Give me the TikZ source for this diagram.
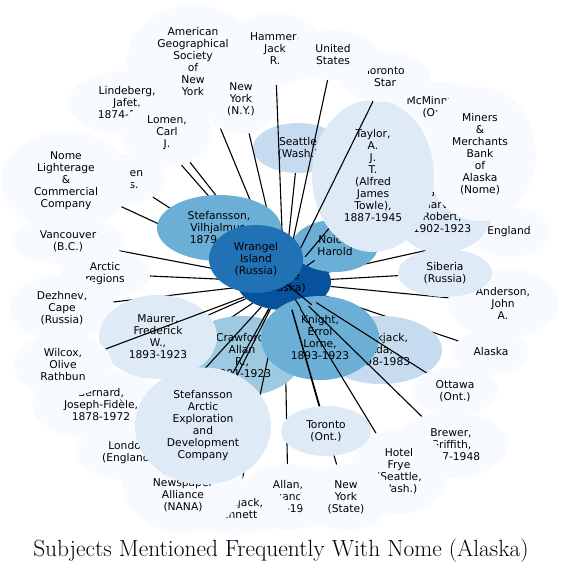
\documentclass[tikz,border=0pt]{standalone}
\usepackage{fontspec}
\usepackage{tikz}
\usetikzlibrary{shapes.geometric}
\newfontfamily\lblfamily{DejaVu Sans}
\newcommand\lblfont{\lblfamily\fontsize{10.7}{12}\selectfont}
\newcommand\ttlfont{\fontsize{23.4}{27}\selectfont}
\definecolor{bl0}{HTML}{F7FBFF}
\definecolor{bl1}{HTML}{DEEBF7}
\definecolor{bl2}{HTML}{C6DBEF}
\definecolor{bl3}{HTML}{9ECAE1}
\definecolor{bl4}{HTML}{6BAED6}
\definecolor{bl5}{HTML}{2171B5}
\definecolor{bl6}{HTML}{08519C}
\begin{document}
\begin{tikzpicture}[x=1pt,y=-1pt,
  bub/.style={ellipse,draw=none,inner sep=0pt,align=center,font=\lblfont},
  tie/.style={line width=1.1pt,black}]
\useasboundingbox (0,0) rectangle (563,571);
\node[bub,fill=bl6,minimum width=94pt,minimum height=56pt] (nome) at (284,282) {Nome\\(Alaska)};
\foreach \n/\p/\w/\h/\c/\t in {
  seattle/{(298,148)}/90/50/bl2/{Seattle\\(Wash.)},
  amer/{(193,62)}/132/114/bl0/{American\\Geographical\\Society\\of\\New\\York},
  nyny/{(241,99)}/76/70/bl0/{New\\York\\(N.Y.)},
  hammer/{(275,49)}/94/72/bl0/{Hammer,\\Jack\\R.},
  mcminn/{(438,107)}/104/50/bl0/{McMinnville\\(Ore.)},
  england/{(509,232)}/80/50/bl0/{England},
  harvey/{(442,211)}/100/84/bl1/{Galle,\\Harvey\\Robert,\\1902-1923},
  miners/{(480,154)}/112/134/bl0/{Miners\\\&\\Merchants\\Bank\\of\\Alaska\\(Nome)},
  noice/{(335,246)}/86/52/bl4/{Noice,\\Harold},
  taylor/{(373,176)}/122/152/bl1/{Taylor,\\A.\\J.\\T.\\(Alfred\\James\\Towle),\\1887-1945},
  tstar/{(385,77)}/90/50/bl0/{Toronto\\Star},
  us/{(333,55)}/92/50/bl0/{United\\States},
  lindeberg/{(127,103)}/118/64/bl0/{Lindeberg,\\Jafet,\\1874-1962},
  lomenc/{(167,133)}/90/68/bl0/{Lomen,\\Carl\\J.},
  lomenb/{(125,179)}/80/50/bl0/{Lomen\\Bros.},
  lighter/{(66,181)}/130/98/bl0/{Nome\\Lighterage\\\&\\Commercial\\Company},
  stefv/{(219,228)}/124/66/bl4/{Stefansson,\\Vilhjalmur,\\1879-1962},
  vancouver/{(68,241)}/112/48/bl0/{Vancouver\\(B.C.)},
  arctic/{(105,274)}/90/48/bl0/{Arctic\\regions},
  dezhnev/{(62,308)}/104/66/bl0/{Dezhnev,\\Cape\\(Russia)},
  allan/{(288,497)}/100/66/bl0/{Allan,\\Alexander,\\1867-1941},
  bernard/{(101,405)}/138/70/bl0/{Bernard,\\Joseph-Fidèle,\\1878-1972},
  crawford/{(242,356)}/120/80/bl3/{Crawford,\\Allan\\R.,\\1901-1923},
  maurer/{(158,337)}/118/84/bl1/{Maurer,\\Frederick\\W.,\\1893-1923},
  wilcox/{(63,365)}/98/64/bl0/{Wilcox,\\Olive\\Rathbun},
  bennett/{(236,509)}/104/52/bl0/{Blackjack,\\Bennett},
  nana/{(183,483)}/120/100/bl0/{North\\American\\Newspaper\\Alliance\\(NANA)},
  london/{(128,453)}/104/54/bl0/{London\\(England)},
  sa/{(203,426)}/136/117/bl1/{Stefansson\\Arctic\\Exploration\\and\\Development\\Company},
  anderson/{(503,303)}/110/70/bl0/{Anderson,\\John\\A.},
  siberia/{(445,273)}/94/48/bl1/{Siberia\\(Russia)},
  alaska/{(491,352)}/74/46/bl0/{Alaska},
  blackada/{(381,350)}/122/68/bl2/{Blackjack,\\Ada,\\1898-1983},
  knight/{(320,338)}/118/84/bl4/{Knight,\\Errol\\Lorne,\\1893-1923},
  ottawa/{(455,391)}/86/48/bl0/{Ottawa\\(Ont.)},
  brewer/{(451,445)}/114/66/bl0/{Brewer,\\Griffith,\\1867-1948},
  frye/{(399,471)}/96/86/bl0/{Hotel\\Frye\\(Seattle,\\Wash.)},
  nystate/{(346,497)}/92/66/bl0/{New\\York\\(State)},
  toronto/{(326,431)}/90/50/bl1/{Toronto\\(Ont.)},
  wrangel/{(256,259)}/94/68/bl5/{Wrangel\\Island\\(Russia)}}{
  \node[bub,fill=\c,minimum width=\w pt,minimum height=\h pt] (\n) at \p {\t};
  \draw[tie] (nome) -- (\n);
}
\node[font=\ttlfont,anchor=base] (title) at (281,556) {Subjects Mentioned Frequently With Nome (Alaska)};
\end{tikzpicture}
\end{document}
